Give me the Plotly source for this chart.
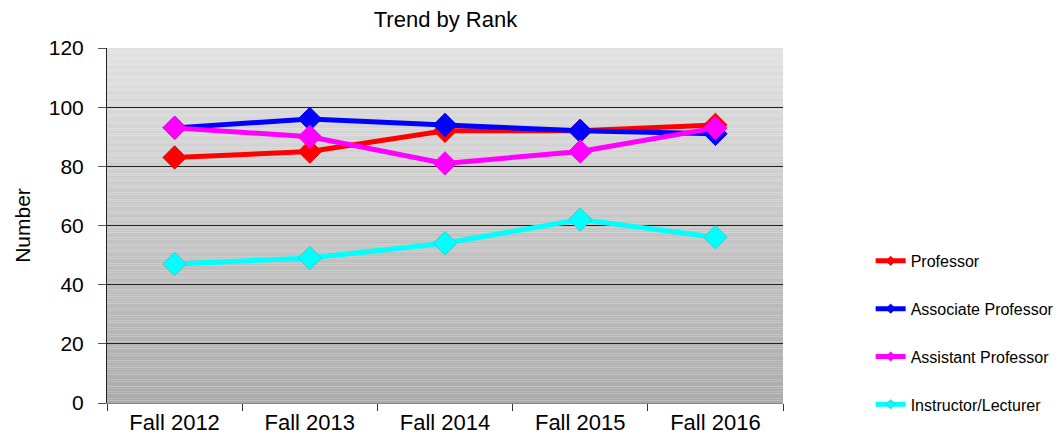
import plotly.graph_objects as go

categories = ["Fall 2012", "Fall 2013", "Fall 2014", "Fall 2015", "Fall 2016"]
professor = [83, 85, 92, 92, 94]
associate = [93, 96, 94, 92, 91]
assistant = [93, 90, 81, 85, 93]
instructor = [47, 49, 54, 62, 56]

series = [
    ("Professor", professor, "#ff0000", "#ff0000"),
    ("Associate Professor", associate, "#0000ff", "#0000ff"),
    ("Assistant Professor", assistant, "#ff00ff", "#ff00ff"),
    ("Instructor/Lecturer", instructor, "#00ffff", "#33cccc"),
]

fig = go.Figure()
for i, (name, vals, col, edge) in enumerate(series):
    fig.add_trace(go.Scatter(
        x=categories, y=vals, name=name, mode="lines+markers",
        line=dict(color=col, width=5),
        marker=dict(symbol="diamond", size=18, color=col, line=dict(color=edge, width=1)),
        showlegend=False,
    ))
# legend entries with small markers, as in the reference legend
for i, (name, vals, col, edge) in enumerate(series):
    fig.add_trace(go.Scatter(
        x=[None], y=[None], name=name, mode="lines+markers",
        line=dict(color=col, width=5),
        marker=dict(symbol="diamond", size=7, color=col, line=dict(color=edge, width=1)),
        legendgroup=f"g{i}", showlegend=True,
    ))

# gradient background stripes
n = 150
shapes = []
for k in range(n):
    t = k / (n - 1)
    c = int(round(225 - (225 - 171) * t))
    shapes.append(dict(
        type="rect", xref="x domain", yref="y domain",
        x0=0, x1=1, y0=1 - (k + 1) / n, y1=1 - k / n,
        fillcolor=f"rgb({c},{c},{c})", line=dict(width=0), layer="below",
    ))

fig.update_layout(
    width=1062, height=443,
    margin=dict(l=99, r=286, t=40, b=48),
    paper_bgcolor="white", plot_bgcolor="rgba(0,0,0,0)",
    font=dict(family="Liberation Sans, Arial, sans-serif", color="black"),
    title=dict(text="Trend by Rank", x=(99 + 776) / 2 / 1062, xanchor="center",
               y=0.974, yanchor="middle", font=dict(size=22)),
    shapes=shapes,
    showlegend=True,
    legend=dict(x=1.128, xanchor="left", y=0.448, yanchor="top",
                font=dict(size=16), tracegroupgap=24,
                bgcolor="rgba(0,0,0,0)"),
    xaxis=dict(showgrid=False, tickson="boundaries", ticks="outside", ticklen=7,
               tickcolor="#333", showline=True, linecolor="#888", linewidth=1,
               tickfont=dict(size=22), range=[-0.5, 4.5]),
    yaxis=dict(range=[0, 120], dtick=20, showgrid=True, gridcolor="#222", gridwidth=1,
               ticks="outside", ticklen=8, tickcolor="#555", showline=True,
               linecolor="#222", linewidth=1, tickfont=dict(size=21), zeroline=False,
               ticklabelstandoff=10,
               title=dict(text="Number", font=dict(size=21), standoff=12)),
)

fig.write_html("out.html")
